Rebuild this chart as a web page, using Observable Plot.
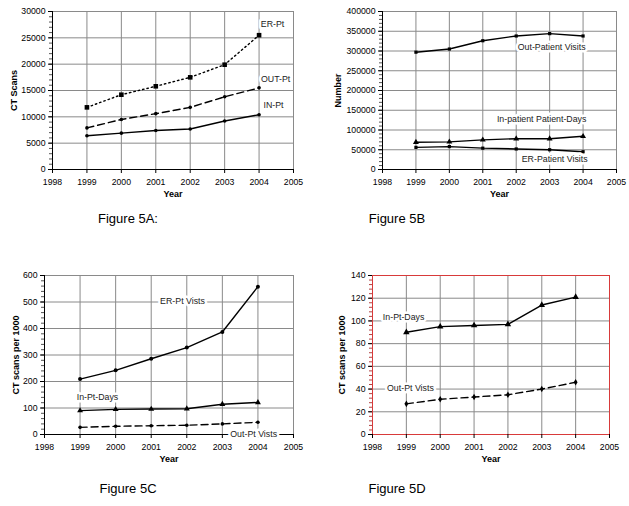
<!DOCTYPE html>
<html>
<head>
<meta charset="utf-8">
<script src="https://cdn.jsdelivr.net/npm/d3@7"></script>
<script src="https://cdn.jsdelivr.net/npm/@observablehq/plot@0.6"></script>
<style>
  body { margin: 0; background: #fff; font-family: "Liberation Sans", Arial, sans-serif; }
  #wrap { position: relative; width: 629px; height: 506px; }
  .panel { position: absolute; }
  .cap { position: absolute; font-size: 13px; color: #000; transform: translateX(-50%); white-space: nowrap; }
  svg g[aria-label="x-axis label"] text, svg g[aria-label="y-axis label"] text { font-weight: bold; font-size: 9px; }
</style>
</head>
<body>
<div id="wrap"></div>
<script>
// ---- data ----
const years = [1999, 2000, 2001, 2002, 2003, 2004];
const xTicks = [1998, 1999, 2000, 2001, 2002, 2003, 2004, 2005];

// Figure 5A: CT scans
const aER  = [11800, 14200, 15800, 17500, 19900, 25500];
const aOUT = [7900, 9500, 10600, 11800, 13800, 15500];
const aIN  = [6400, 6900, 7400, 7700, 9200, 10400];
const aYTicks = [0, 5000, 10000, 15000, 20000, 25000, 30000];

// Figure 5B: Number
const bOut = [297000, 305000, 326000, 338000, 344000, 338000];
const bIn  = [69000, 70000, 75000, 78000, 78000, 84000];
const bER  = [56000, 58000, 54000, 52000, 50000, 45000];
const bYTicks = [0, 50000, 100000, 150000, 200000, 250000, 300000, 350000, 400000];

// Figure 5C: CT scans per 1000
const cER  = [209, 242, 286, 328, 387, 558];
const cIn  = [90, 95, 96, 97, 114, 121];
const cOut = [27, 31, 33, 35, 40, 46];
const cYTicks = [0, 100, 200, 300, 400, 500, 600];

// Figure 5D: CT scans per 1000
const dIn  = [90, 95, 96, 97, 114, 121];
const dOut = [27, 31, 33, 35, 40, 46];
const dYTicks = [0, 20, 40, 60, 80, 100, 120, 140];

const captions = ["Figure 5A:", "Figure 5B", "Figure 5C", "Figure 5D"];

// ---- drawing ----
const rows = vals => years.map((y, i) => ({year: y, value: vals[i]}));

function panel(cfg) {
  const axisColor = cfg.frameColor || "#000";
  const marks = [
    Plot.gridX(xTicks, {stroke: "#8a8a8a", strokeOpacity: 1, strokeWidth: 1}),
    Plot.gridY(cfg.yTicks, {stroke: "#8a8a8a", strokeOpacity: 1, strokeWidth: 1}),
    Plot.frame({stroke: cfg.frameColor || "#8a8a8a", strokeWidth: 1}),
    Plot.ruleY([cfg.yDomain[0]], {stroke: axisColor}),
    Plot.ruleX([1998], {stroke: axisColor}),
    Plot.axisY(cfg.yMinor, {tickSize: 3, text: null, label: null, stroke: cfg.frameColor ? "#b04040" : "#555"}),
    Plot.axisY(cfg.yTicks, {tickSize: 4, fontSize: 8.7, tickPadding: 3, label: cfg.yLabel, labelAnchor: "center", labelArrow: "none", labelOffset: cfg.labelOffsetY, tickFormat: d => String(d)}),
    Plot.axisX(xTicks, {tickSize: 4, fontSize: 8.7, tickFormat: d => String(d), label: "Year", labelAnchor: "center", labelArrow: "none", labelOffset: 27})
  ];
  for (const s of cfg.series) {
    const data = rows(s.values);
    marks.push(Plot.line(data, {x: "year", y: "value", stroke: "#000", strokeWidth: 1.4, strokeDasharray: s.dash || null}));
    marks.push(Plot.dot(data, {x: "year", y: "value", symbol: s.symbol || "circle", r: s.r || 2, fill: "#000", stroke: "none"}));
  }
  for (const l of cfg.labels) {
    marks.push(Plot.text([l], {x: "x", y: "y", text: "t", fontSize: 8.8, fill: "#222", stroke: "white", strokeWidth: 5, textAnchor: "middle"}));
  }
  const chart = Plot.plot({
    width: cfg.width, height: cfg.height,
    marginLeft: cfg.ml, marginRight: cfg.mr, marginTop: cfg.mt, marginBottom: cfg.mb,
    style: {fontFamily: "'Liberation Sans', Arial, sans-serif", fontSize: "9px", color: "#000", background: "white"},
    x: {domain: [1998, 2005]},
    y: {domain: cfg.yDomain},
    marks
  });
  const div = document.createElement("div");
  div.className = "panel";
  div.style.left = cfg.left + "px";
  div.style.top = cfg.top + "px";
  div.appendChild(chart);
  document.getElementById("wrap").appendChild(div);
}

panel({
  left: 0, top: 0, width: 315, height: 200, ml: 52, mr: 22, mt: 11, mb: 31,
  yDomain: [0, 30000], yTicks: aYTicks, yMinor: d3.range(0, 30001, 1000),
  yLabel: "CT Scans", labelOffsetY: 42,
  series: [
    {values: aER, dash: "1.5,3", symbol: "square", r: 2.6},
    {values: aOUT, dash: "7,4", r: 1.8},
    {values: aIN, r: 1.8}
  ],
  labels: [
    {x: 2004.39, y: 27530, t: "ER-Pt"},
    {x: 2004.48, y: 17090, t: "OUT-Pt"},
    {x: 2004.42, y: 12150, t: "IN-Pt"}
  ]
});

panel({
  left: 314, top: 0, width: 315, height: 200, ml: 68, mr: 13, mt: 11, mb: 31,
  yDomain: [0, 400000], yTicks: bYTicks, yMinor: d3.range(0, 400001, 10000),
  yLabel: "Number", labelOffsetY: 48,
  series: [
    {values: bOut, symbol: "square", r: 1.8},
    {values: bIn, symbol: "triangle", r: 2.2},
    {values: bER, symbol: "square", r: 1.8}
  ],
  labels: [
    {x: 2003.06, y: 309000, t: "Out-Patient Visits"},
    {x: 2002.76, y: 126600, t: "In-patient Patient-Days"},
    {x: 2003.15, y: 25300, t: "ER-Patient Visits"}
  ]
});

panel({
  left: 0, top: 260, width: 315, height: 206, ml: 44, mr: 22, mt: 15, mb: 32,
  yDomain: [0, 600], yTicks: cYTicks, yMinor: d3.range(0, 601, 20),
  yLabel: "CT scans per 1000", labelOffsetY: 32,
  series: [
    {values: cER, r: 2},
    {values: cIn, symbol: "triangle", r: 2.2},
    {values: cOut, dash: "7,4", r: 1.8}
  ],
  labels: [
    {x: 2001.88, y: 502, t: "ER-Pt Vists"},
    {x: 1999.49, y: 140, t: "In-Pt-Days"},
    {x: 2003.88, y: 0, t: "Out-Pt Vists"}
  ]
});

panel({
  left: 314, top: 260, width: 315, height: 206, ml: 58, mr: 20, mt: 15, mb: 32,
  yDomain: [0, 140], yTicks: dYTicks, yMinor: d3.range(0, 141, 4),
  yLabel: "CT scans per 1000", labelOffsetY: 34, frameColor: "#d83a3a",
  series: [
    {values: dIn, symbol: "triangle", r: 2.4},
    {values: dOut, dash: "7,4", symbol: "diamond", r: 2}
  ],
  labels: [
    {x: 1998.92, y: 103, t: "In-Pt-Days"},
    {x: 1999.12, y: 40.5, t: "Out-Pt Vists"}
  ]
});

const capPos = [[128, 211], [397, 211], [128, 481], [397, 481]];
captions.forEach((c, i) => {
  const d = document.createElement("div");
  d.className = "cap";
  d.textContent = c;
  d.style.left = capPos[i][0] + "px";
  d.style.top = capPos[i][1] + "px";
  document.getElementById("wrap").appendChild(d);
});
</script>
</body>
</html>
